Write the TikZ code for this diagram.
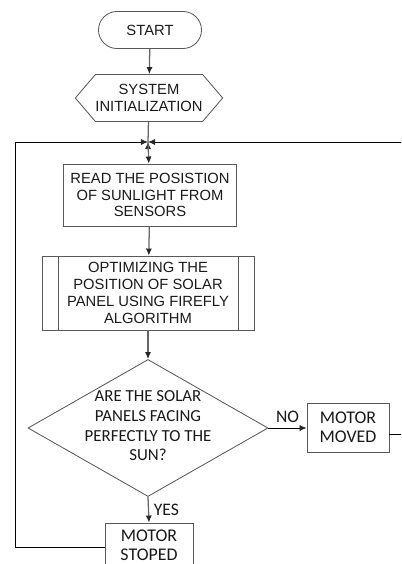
\documentclass[tikz,border=0pt]{standalone}
\usepackage{fontspec}
\setmainfont{Liberation Sans}
\newfontfamily\calfont{Carlito}
\usetikzlibrary{positioning,arrows.meta,shapes.geometric,shapes.misc,shapes.symbols}

\begin{document}
\begin{tikzpicture}[x=0.025cm,y=-0.025cm,
    every node/.style={align=center,text=black!90,font=\fontsize{10.5}{12}\selectfont},
    box/.style={draw=black!65,line width=0.6pt,inner sep=0pt},
    procbox/.style={box,path picture={
      \draw[black!65,line width=0.6pt]
        ([xshift=0.4cm]path picture bounding box.north west) -- ([xshift=0.4cm]path picture bounding box.south west)
        ([xshift=-0.4cm]path picture bounding box.north east) -- ([xshift=-0.4cm]path picture bounding box.south east);}},
    cal/.style={font=\calfont\fontsize{12.7}{13.6}\selectfont},
    tip/.style={-{Latex[length=5pt,width=4.4pt,color=black!85]}},
    flow/.style={tip,draw=black!60,line width=0.9pt},
    back/.style={tip,draw=black,line width=0.6pt}]
    \useasboundingbox (0,0) rectangle (401,564);
    \clip (0,0) rectangle (401,564);

    \node[box,rounded rectangle,minimum width=2.575cm,minimum height=0.925cm] (start) at (150,30) {START};
    \node[box,signal,signal to=west and east,signal pointer angle=99,minimum width=3.55cm,minimum height=1.175cm] (init) at (149,98) {SYSTEM\\INITIALIZATION};
    \coordinate (junc) at (148,142);
    \node[box,minimum width=4.325cm,minimum height=1.55cm] (read) at (150,195) {READ THE POSISTION\\OF SUNLIGHT FROM\\SENSORS};
    \node[procbox,minimum width=5.3cm,minimum height=1.85cm] (opt) at (148,293) {OPTIMIZING THE\\POSITION OF SOLAR\\PANEL USING FIREFLY\\ALGORITHM};
    \node[box,diamond,minimum width=6cm,minimum height=3.425cm,font=\calfont\fontsize{12}{14}\selectfont] (dec) at (148,428)
      {\smash{\makebox[0pt]{\raisebox{-2.6pt}{\begin{tabular}{@{}c@{}}ARE THE SOLAR\\PANELS FACING\\PERFECTLY TO THE\\SUN?\end{tabular}}}}};
    \node[box,cal,minimum width=2.05cm,minimum height=1.225cm] (moved) at (348,427.5) {MOTOR\\MOVED};
    \node[box,cal,minimum width=2.2cm,minimum height=1.1cm] (stoped) at (149,545) {MOTOR\\STOPED};

    \path[flow] (start) edge (init);
    \draw[black!60,line width=0.9pt] (init) -- (junc);
    \path[flow] (junc) edge (read);
    \path[flow] (read) edge (opt);
    \path[flow] (opt) edge (dec.north);
    \draw[back] (dec.east) -- node[above,font=\calfont\fontsize{12.5}{14}\selectfont] {NO} (dec.east -| moved.west);
    \draw[flow] (dec.south) -- node[right,font=\calfont\fontsize{12.5}{14}\selectfont] {YES} (stoped.north);
    % loops back to the top
    \draw[back] ([yshift=-0.05cm]stoped.west) -| (15,142) -- (junc);
    \draw[back] ([yshift=-0.175cm]moved.east) -| (420,142) -- (junc);
  \end{tikzpicture}
\end{document}
